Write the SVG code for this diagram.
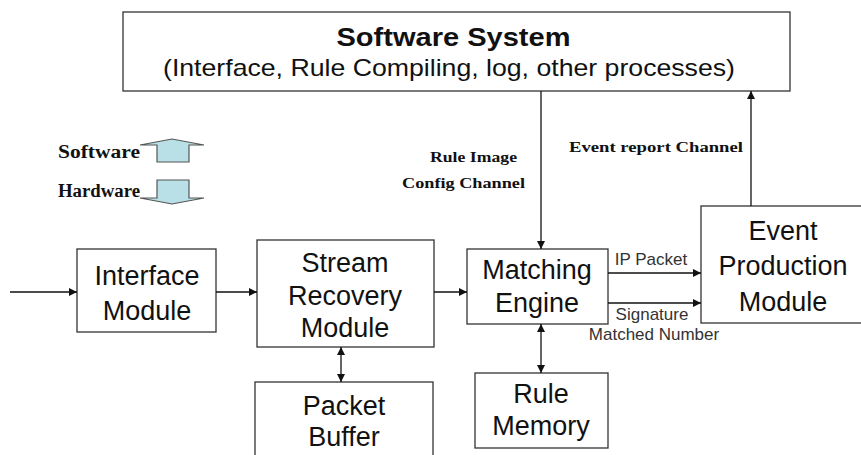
<svg xmlns="http://www.w3.org/2000/svg" width="861" height="455" viewBox="0 0 861 455">
<style>
.box{fill:#fff;stroke:#333;stroke-width:1.3}
.t{font-family:"Liberation Sans",Arial,sans-serif;font-size:27px;fill:#111;text-anchor:middle}
.s{font-family:"Liberation Sans",Arial,sans-serif;font-size:17px;fill:#333;text-anchor:middle}
.m{font-family:"Liberation Serif","Times New Roman",serif;font-weight:bold;fill:#111}
.ln{stroke:#111;stroke-width:1.3;fill:none}
.ha{fill:#b8e0e6;stroke:#555;stroke-width:1.2}
</style>
<defs>
<marker id="ah" viewBox="0 0 10 10" refX="10" refY="5" markerWidth="8" markerHeight="8" markerUnits="userSpaceOnUse" orient="auto-start-reverse">
<path d="M0,0 L10,5 L0,10 z" fill="#111"/>
</marker>
</defs>
<rect width="861" height="455" fill="#fff"/>

<g id="software-system">
<rect class="box" x="123" y="12" width="667" height="79"/>
<text x="453.5" y="46" font-family="Liberation Sans,Arial,sans-serif" font-size="25" font-weight="bold" fill="#111" text-anchor="middle" textLength="234" lengthAdjust="spacingAndGlyphs">Software System</text>
<text x="449" y="76" font-family="Liberation Sans,Arial,sans-serif" font-size="24" fill="#111" text-anchor="middle" textLength="572" lengthAdjust="spacingAndGlyphs">(Interface, Rule Compiling, log, other processes)</text>
</g>

<g id="legend">
<text class="m" x="58" y="158" font-size="18" textLength="82" lengthAdjust="spacingAndGlyphs">Software</text>
<text class="m" x="58" y="197" font-size="18" textLength="82" lengthAdjust="spacingAndGlyphs">Hardware</text>
<path class="ha" d="M140,145 L172,139 L204,145 L189,145 L189,162 L157,162 L157,145 Z"/>
<path class="ha" d="M157,180 L189,180 L189,198 L204,198 L172,204 L140,198 L157,198 Z"/>
</g>

<g id="interface-module">
<rect class="box" x="77" y="249" width="139" height="83"/>
<text class="t" x="147" y="285">Interface</text>
<text class="t" x="147" y="320">Module</text>
</g>

<g id="stream-recovery-module">
<rect class="box" x="257" y="240" width="177" height="107"/>
<text class="t" x="345" y="272">Stream</text>
<text class="t" x="345" y="305">Recovery</text>
<text class="t" x="345" y="337">Module</text>
</g>

<g id="packet-buffer">
<rect class="box" x="255" y="382" width="178" height="80"/>
<text class="t" x="344" y="415">Packet</text>
<text class="t" x="344" y="446">Buffer</text>
</g>

<g id="matching-engine">
<rect class="box" x="467" y="249" width="141" height="75"/>
<text class="t" x="537" y="279">Matching</text>
<text class="t" x="537" y="312">Engine</text>
</g>

<g id="rule-memory">
<rect class="box" x="475" y="373" width="133" height="75"/>
<text class="t" x="541" y="403">Rule</text>
<text class="t" x="541" y="435">Memory</text>
</g>

<g id="event-production-module">
<rect class="box" x="701" y="206" width="180" height="117"/>
<text class="t" x="783" y="240">Event</text>
<text class="t" x="783" y="275">Production</text>
<text class="t" x="783" y="311">Module</text>
</g>

<g id="connectors">
<line class="ln" x1="10" y1="292" x2="77" y2="292" marker-end="url(#ah)"/>
<line class="ln" x1="216" y1="292" x2="257" y2="292" marker-end="url(#ah)"/>
<line class="ln" x1="434" y1="292" x2="467" y2="292" marker-end="url(#ah)"/>
<line class="ln" x1="341" y1="347" x2="341" y2="382" marker-start="url(#ah)" marker-end="url(#ah)"/>
<line class="ln" x1="541" y1="324" x2="541" y2="373" marker-start="url(#ah)" marker-end="url(#ah)"/>
<line class="ln" x1="541" y1="91" x2="541" y2="249" marker-end="url(#ah)"/>
<line class="ln" x1="751" y1="206" x2="751" y2="91" marker-end="url(#ah)"/>
<line class="ln" x1="608" y1="273" x2="701" y2="273" marker-end="url(#ah)"/>
<line class="ln" x1="608" y1="303" x2="701" y2="303" marker-end="url(#ah)"/>
<text class="s" x="651" y="265">IP Packet</text>
<text class="s" x="652" y="320">Signature</text>
<text class="s" x="654" y="340">Matched Number</text>
<text class="m" x="430" y="162" font-size="15" textLength="87" lengthAdjust="spacingAndGlyphs">Rule Image</text>
<text class="m" x="402" y="188" font-size="15" textLength="123" lengthAdjust="spacingAndGlyphs">Config Channel</text>
<text class="m" x="569" y="152" font-size="15" textLength="174" lengthAdjust="spacingAndGlyphs">Event report Channel</text>
</g>
</svg>
